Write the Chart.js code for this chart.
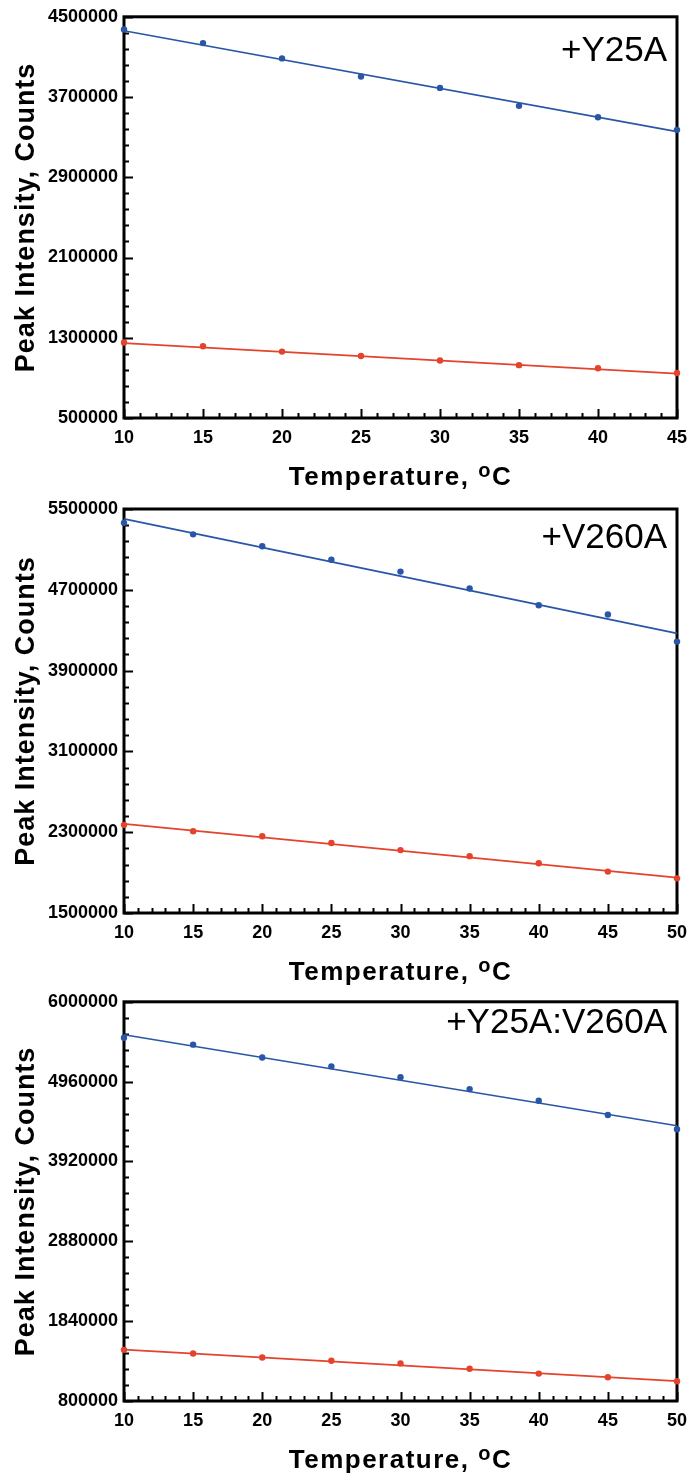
<!DOCTYPE html>
<html>
<head>
<meta charset="utf-8">
<script src="https://cdn.jsdelivr.net/npm/chart.js@4.4.0/dist/chart.umd.min.js"></script>
<style>
  body { margin: 0; background: #fff; }
  .panel { position: absolute; left: 0; }
</style>
</head>
<body>
<div class="panel" style="top:0px"><canvas id="c1" width="687" height="490"></canvas></div>
<div class="panel" style="top:490px"><canvas id="c2" width="687" height="495"></canvas></div>
<div class="panel" style="top:985px"><canvas id="c3" width="687" height="488"></canvas></div>
<script>
// temperatures (deg C)
const temps45 = [10, 15, 20, 25, 30, 35, 40, 45];
const temps50 = [10, 15, 20, 25, 30, 35, 40, 45, 50];

// +Y25A
const y25aBlue = [4374000, 4238000, 4085000, 3905000, 3791000, 3612000, 3498000, 3373000];
const y25aRed = [1253000, 1216000, 1162000, 1118000, 1074000, 1027000, 996000, 949000];
const y25aBlueFit = [4361000, 3356000]; // fit line at first / last temperature
const y25aRedFit = [1246000, 942000];
const y25aTicks = [500000, 1300000, 2100000, 2900000, 3700000, 4500000];

// +V260A
const v260aBlue = [5363000, 5249000, 5131000, 4997000, 4880000, 4713000, 4547000, 4455000, 4187000];
const v260aRed = [2373000, 2310000, 2260000, 2193000, 2123000, 2063000, 1993000, 1910000, 1843000];
const v260aBlueFit = [5402000, 4269000];
const v260aRedFit = [2383000, 1850000];
const v260aTicks = [1500000, 2300000, 3100000, 3900000, 4700000, 5500000];

// +Y25A:V260A
const dblBlue = [5531000, 5442000, 5274000, 5159000, 5018000, 4863000, 4712000, 4526000, 4340000];
const dblRed = [1466000, 1419000, 1367000, 1324000, 1290000, 1221000, 1157000, 1109000, 1058000];
const dblBlueFit = [5571000, 4385000];
const dblRedFit = [1470000, 1058000];
const dblTicks = [800000, 1840000, 2880000, 3920000, 4960000, 6000000];

const BLUE = '#2a56a8';
const RED = '#e4432d';
const FONT = '"Liberation Sans", Arial, Helvetica, sans-serif';

// inward ticks, frame, axis titles and panel label
const framePlugin = {
    id: 'frame',
    beforeDatasetsDraw(chart, args, opts) {
        const ctx = chart.ctx;
        const a = chart.chartArea;
        const xs = chart.scales.x, ys = chart.scales.y;
        ctx.save();
        ctx.strokeStyle = '#000';
        ctx.lineWidth = 2;
        ctx.beginPath();
        for (let t = xs.min; t <= xs.max; t += 1) {
            const px = Math.round(xs.getPixelForValue(t)) + 0.5;
            const len = (t % 5 === 0) ? 9 : 5;
            ctx.moveTo(px, a.bottom);
            ctx.lineTo(px, a.bottom - len);
        }
        const minor = opts.minorStep;
        for (let i = 0; ys.min + i * minor <= ys.max + 1; i++) {
            const v = ys.min + i * minor;
            const py = Math.round(ys.getPixelForValue(v)) + 0.5;
            const len = (i % 5 === 0) ? 9 : 5;
            ctx.moveTo(a.left, py);
            ctx.lineTo(a.left + len, py);
        }
        ctx.stroke();
        ctx.lineWidth = 3;
        ctx.strokeRect(a.left, a.top, a.right - a.left, a.bottom - a.top);

        // panel label
        ctx.fillStyle = '#000';
        ctx.font = '35px ' + FONT;
        ctx.textAlign = 'right';
        ctx.textBaseline = 'alphabetic';
        ctx.fillText(opts.label, a.right - 10, a.top + opts.labelOffset);

        // y title
        ctx.save();
        ctx.translate(34, (a.top + a.bottom) / 2);
        ctx.rotate(-Math.PI / 2);
        ctx.font = 'bold 27px ' + FONT;
        ctx.letterSpacing = '1px';
        ctx.textAlign = 'center';
        ctx.fillText('Peak Intensity, Counts', 0, 0);
        ctx.restore();

        // x title with superscript o
        ctx.letterSpacing = '1.5px';
        ctx.textAlign = 'left';
        const main = 'Temperature, ';
        ctx.font = 'bold 26px ' + FONT;
        const w1 = ctx.measureText(main).width;
        const wc = ctx.measureText('C').width;
        ctx.font = 'bold 20px ' + FONT;
        const wo = ctx.measureText('o').width;
        const total = w1 + wo + wc;
        let x0 = (a.left + a.right) / 2 - total / 2;
        const base = a.bottom + 67;
        ctx.font = 'bold 26px ' + FONT;
        ctx.fillText(main, x0, base);
        ctx.font = 'bold 20px ' + FONT;
        ctx.fillText('o', x0 + w1, base - 8);
        ctx.font = 'bold 26px ' + FONT;
        ctx.fillText('C', x0 + w1 + wo, base);
        ctx.restore();
    }
};

function pts(xs, ys) {
    return xs.map((x, i) => ({x: x, y: ys[i]}));
}

function makeChart(id, temps, blue, red, blueFit, redFit, yTicks, minorStep, label, labelOffset, padTop) {
    const ends = [temps[0], temps[temps.length - 1]];
    const xTicks = temps;
    const tickFont = {family: FONT, size: 18, weight: 'bold'};
    new Chart(document.getElementById(id), {
        type: 'line',
        data: {
            datasets: [
                {data: pts(ends, blueFit), borderColor: BLUE, borderWidth: 1.7, pointRadius: 0, clip: false},
                {data: pts(temps, blue), showLine: false, pointRadius: 3.2, pointBackgroundColor: BLUE, pointBorderWidth: 0, clip: false},
                {data: pts(ends, redFit), borderColor: RED, borderWidth: 1.7, pointRadius: 0, clip: false},
                {data: pts(temps, red), showLine: false, pointRadius: 3.2, pointBackgroundColor: RED, pointBorderWidth: 0, clip: false}
            ]
        },
        options: {
            responsive: false,
            animation: false,
            events: [],
            layout: {padding: {top: padTop, right: 10, left: 0, bottom: 0}},
            plugins: {
                legend: {display: false},
                tooltip: {enabled: false},
                frame: {minorStep: minorStep, label: label, labelOffset: labelOffset}
            },
            scales: {
                x: {
                    type: 'linear',
                    min: ends[0],
                    max: ends[1],
                    afterBuildTicks: s => { s.ticks = xTicks.map(v => ({value: v})); },
                    afterFit: s => { s.height = 72; s.paddingLeft = 0; s.paddingRight = 0; },
                    ticks: {font: tickFont, color: '#000', padding: 9, maxRotation: 0, autoSkip: false},
                    grid: {display: false, drawTicks: false},
                    border: {display: false}
                },
                y: {
                    type: 'linear',
                    min: yTicks[0],
                    max: yTicks[yTicks.length - 1],
                    afterBuildTicks: s => { s.ticks = yTicks.map(v => ({value: v})); },
                    afterFit: s => { s.width = 124; },
                    ticks: {font: tickFont, color: '#000', padding: 6, callback: v => String(v)},
                    grid: {display: false, drawTicks: false},
                    border: {display: false}
                }
            }
        },
        plugins: [framePlugin]
    });
}

makeChart('c1', temps45, y25aBlue, y25aRed, y25aBlueFit, y25aRedFit, y25aTicks, 160000, '+Y25A', 44, 16);
makeChart('c2', temps50, v260aBlue, v260aRed, v260aBlueFit, v260aRedFit, v260aTicks, 160000, '+V260A', 39, 19);
makeChart('c3', temps50, dblBlue, dblRed, dblBlueFit, dblRedFit, dblTicks, 208000, '+Y25A:V260A', 31, 13);
</script>
</body>
</html>
